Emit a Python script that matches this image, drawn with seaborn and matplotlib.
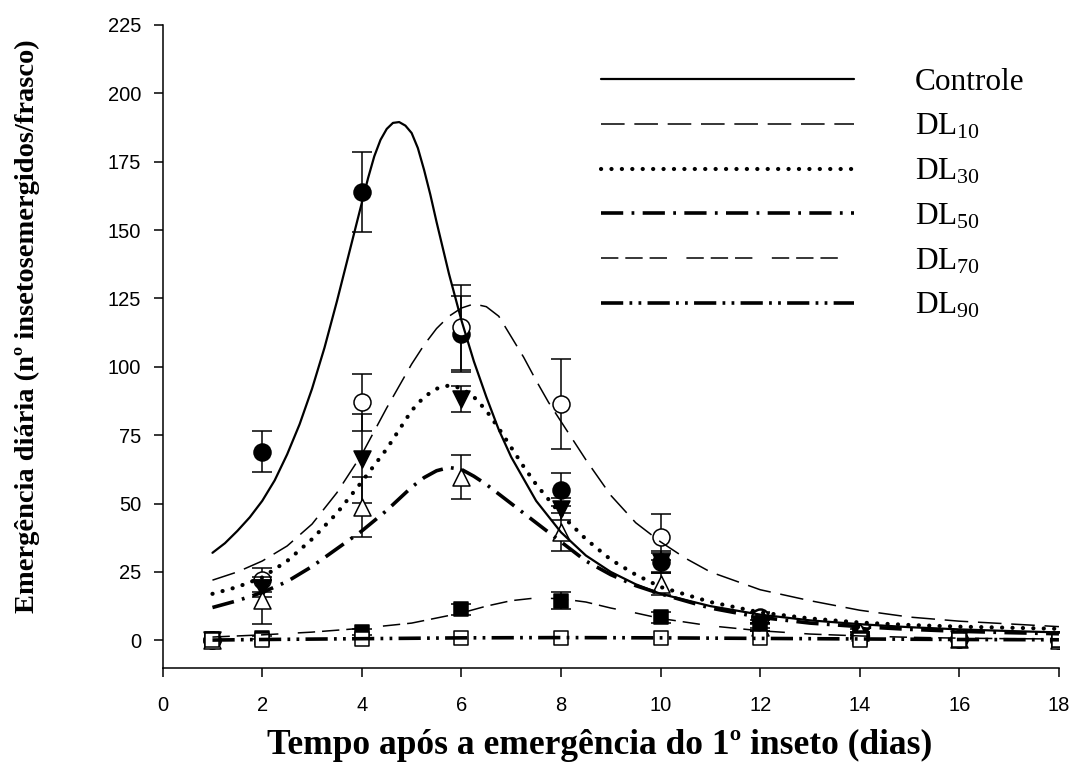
import numpy as np
import pandas as pd
import matplotlib
matplotlib.use("Agg")
import matplotlib.pyplot as plt
import seaborn as sns

# ---------------- data ----------------
series = ["Controle", "DL10", "DL30", "DL50", "DL70", "DL90"]
legend_labels = ["Controle", "DL$_{10}$", "DL$_{30}$", "DL$_{50}$", "DL$_{70}$", "DL$_{90}$"]

# observed points (mean +/- error)
days = [1, 2, 4, 6, 8, 10, 12, 14, 16, 18]
obs_controle = [0, 69, 164, 112, 55, 28.6, 8.5, 2, 0.5, 0]
err_controle = [0, 7.6, 14.6, 14, 6, 4, 2, 1, 0, 0]
obs_dl10 = [0, 22, 87, 114.5, 86.5, 37.8, 8, 2, 0.5, 0]
err_dl10 = [0, 4.5, 10.4, 15.5, 16.5, 8.5, 2, 1, 0, 0]
obs_dl30 = [0, 19, 66.4, 88.3, 48, 28.6, 6, 1.5, 0.5, 0]
err_dl30 = [0, 3, 16.3, 4.7, 4, 3.5, 1.5, 0.8, 0, 0]
obs_dl50 = [0, 14.6, 48.8, 59.7, 39.6, 20.7, 5, 3, 0.5, 0]
err_dl50 = [0, 8.5, 11, 8.2, 7, 4, 1.5, 1, 0, 0]
obs_dl70 = [0.5, 1, 3, 11.3, 14.5, 8.5, 5, 1, 0.3, 0]
err_dl70 = [0, 0.5, 1, 2, 3.2, 2, 1.5, 0.5, 0, 0]
obs_dl90 = [0, 0, 0.5, 1, 1, 1, 1, 0, 0, 0]
err_dl90 = [0, 0, 0, 0, 0, 0, 0, 0, 0, 0]

# fitted curves
fit_x_controle = [1, 1.25, 1.5, 1.75, 2, 2.25, 2.5, 2.75, 3, 3.25, 3.5, 3.75, 4, 4.125, 4.25, 4.375,
                  4.5, 4.625, 4.75, 4.875, 5, 5.125, 5.25, 5.375, 5.5, 5.75, 6, 6.25, 6.5, 6.75, 7,
                  7.5, 8, 8.5, 9, 9.5, 10, 11, 12, 13, 14, 15, 16, 17, 18]
fit_y_controle = [32, 35.5, 40, 45, 51, 58.5, 68, 79, 92, 107, 124, 142, 160, 169, 177, 183,
                  187, 189.2, 189.5, 188.2, 185.5, 180, 172, 163, 153, 134, 117, 102, 89, 77, 67,
                  51, 39.5, 31, 25, 20.5, 17, 12.5, 9.4, 7.3, 5.9, 4.8, 4.0, 3.4, 2.9]
fit_x_dl10 = [1, 1.5, 2, 2.5, 3, 3.5, 4, 4.5, 5, 5.25, 5.5, 5.75, 6, 6.25, 6.5, 6.75, 7, 7.25, 7.5,
              7.75, 8, 8.5, 9, 9.5, 10, 10.5, 11, 12, 13, 14, 15, 16, 17, 18]
fit_y_dl10 = [22, 25, 29, 34.5, 42.5, 54, 68, 85, 101, 108, 114, 118.5, 121.5, 123, 122, 118.5, 111,
              103.5, 95, 87, 80, 66, 53, 43, 36, 30, 25, 18.5, 14.5, 11, 8.5, 7, 6, 5]
fit_x_dl30 = [1, 1.5, 2, 2.5, 3, 3.5, 4, 4.5, 4.75, 5, 5.25, 5.5, 5.75, 6, 6.25, 6.5, 6.75, 7, 7.25,
              7.5, 8, 8.5, 9, 9.5, 10, 11, 12, 13, 14, 15, 16, 17, 18]
fit_y_dl30 = [17, 19.5, 23, 29, 37, 46.5, 58, 70, 77, 84, 89, 92, 93.2, 92.2, 89, 84, 77.5, 70.5, 63.5,
              57, 46, 37, 29.5, 24, 19.5, 14, 10.2, 8, 6.5, 5.6, 5, 4.6, 4.2]
fit_x_dl50 = [1, 1.5, 2, 2.5, 3, 3.5, 4, 4.5, 5, 5.25, 5.5, 5.75, 6, 6.25, 6.5, 6.75, 7, 7.5, 8, 8.5,
              9, 9.5, 10, 11, 12, 13, 14, 15, 16, 17, 18]
fit_y_dl50 = [12, 14.5, 17.5, 21.5, 27, 33.5, 40, 47.5, 56, 59.5, 62, 63.2, 62.5, 60, 57, 53.5, 50,
              43, 36, 29, 24, 20, 17, 11.8, 8.4, 6.3, 5, 4, 3.3, 2.8, 2.4]
fit_x_dl70 = [1, 2, 3, 4, 5, 6, 6.5, 7, 7.5, 8, 8.5, 9, 9.5, 10, 11, 12, 13, 14, 15, 16, 17, 18]
fit_y_dl70 = [1.2, 2, 3, 4.4, 6.3, 10, 12.5, 14.5, 15.5, 15.2, 14, 11.8, 10, 8, 5.3, 3.5, 2.3, 1.6, 1.1,
              0.8, 0.6, 0.5]
fit_x_dl90 = [1, 2, 4, 6, 8, 10, 12, 14, 16, 18]
fit_y_dl90 = [0.1, 0.3, 0.6, 0.9, 1.0, 0.9, 0.7, 0.5, 0.3, 0.2]

x_ticks = [0, 2, 4, 6, 8, 10, 12, 14, 16, 18]
y_ticks = [0, 25, 50, 75, 100, 125, 150, 175, 200, 225]

# ---------------- style ----------------
sns.set_style("ticks")
plt.rcParams["font.family"] = ["Liberation Sans", "DejaVu Sans"]
plt.rcParams["mathtext.default"] = "regular"
plt.rcParams["lines.scale_dashes"] = False
plt.rcParams["text.color"] = "black"
plt.rcParams["axes.labelcolor"] = "black"
plt.rcParams["axes.edgecolor"] = "black"
plt.rcParams["xtick.color"] = "black"
plt.rcParams["ytick.color"] = "black"

fig = plt.figure(figsize=(10.83, 7.76), dpi=100)
ax = fig.add_axes([0.1502, 0.1396, 0.9778 - 0.1502, 0.9678 - 0.1396])

obs = {"Controle": (obs_controle, err_controle), "DL10": (obs_dl10, err_dl10),
       "DL30": (obs_dl30, err_dl30), "DL50": (obs_dl50, err_dl50),
       "DL70": (obs_dl70, err_dl70), "DL90": (obs_dl90, err_dl90)}
fits = {"Controle": (fit_x_controle, fit_y_controle), "DL10": (fit_x_dl10, fit_y_dl10),
        "DL30": (fit_x_dl30, fit_y_dl30), "DL50": (fit_x_dl50, fit_y_dl50),
        "DL70": (fit_x_dl70, fit_y_dl70), "DL90": (fit_x_dl90, fit_y_dl90)}

markers = {"Controle": ("o", "black", 150), "DL10": ("o", "white", 150),
           "DL30": ("v", "black", 150), "DL50": ("^", "white", 150),
           "DL70": ("s", "black", 100), "DL90": ("s", "white", 100)}

line_styles = {
    "Controle": dict(linestyle="-", linewidth=1.6),
    "DL10": dict(linestyle=(0, (17, 7)), linewidth=1.1),
    "DL30": dict(linestyle=(0, (0.1, 7.4)), linewidth=3.0, dash_capstyle="round"),
    "DL50": dict(linestyle=(0, (16, 6, 2, 6)), linewidth=2.6),
    "DL70": dict(linestyle=(0, (12.5, 5, 12.5, 5, 12.5, 14)), linewidth=1.1),
    "DL90": dict(linestyle=(0, (16, 4.5, 2, 4.5, 2, 4.5)), linewidth=2.6),
}

# error bars and markers
for k, s in enumerate(series):
    vals, errs = obs[s]
    df = pd.DataFrame({"dia": days, "val": vals, "err": errs})
    dfe = df[df["err"] > 0]
    ax.errorbar(dfe["dia"], dfe["val"], yerr=dfe["err"], fmt="none", ecolor="black",
                elinewidth=1.1, capsize=7, capthick=1.1, zorder=2 + 0.1 * k)
    m, fc, size = markers[s]
    sns.scatterplot(data=df, x="dia", y="val", marker=m, s=size, color=fc,
                    edgecolor="black", linewidth=1.1, ax=ax, zorder=2.05 + 0.1 * k, legend=False)

# fitted curves
for s, lab in zip(series, legend_labels):
    fx, fy = fits[s]
    dff = pd.DataFrame({"dia": fx, "val": fy})
    sns.lineplot(data=dff, x="dia", y="val", color="black", ax=ax, label=lab,
                 zorder=4, **line_styles[s])

ax.set_xlim(0, 18)
ax.set_ylim(-10, 225)
ax.set_xticks(x_ticks)
ax.set_yticks(y_ticks)
for sp in ["top", "right"]:
    ax.spines[sp].set_visible(False)
for sp in ["left", "bottom"]:
    ax.spines[sp].set_linewidth(1.1)
ax.tick_params(axis="both", direction="out", length=6.5, width=1.1, labelsize=14.5, colors="black")
ax.tick_params(axis="y", pad=9)
ax.tick_params(axis="x", pad=14)

ax.set_xlabel("Tempo após a emergência do 1º inseto (dias)", fontsize=25.5, fontweight="bold",
              family=["Liberation Serif", "DejaVu Serif"])
ax.set_ylabel("Emergência diária (nº insetosemergidos/frasco)", fontsize=20.5, fontweight="bold",
              family=["Liberation Serif", "DejaVu Serif"])
ax.xaxis.set_label_coords(0.488, -0.095)
ax.yaxis.set_label_coords(-0.137, 0.532)

handles, labels = ax.get_legend_handles_labels()
leg = ax.legend(handles, labels, loc="upper left", bbox_to_anchor=(0.4715, 0.9575),
                frameon=False, borderpad=0, handlelength=8.1, handletextpad=1.95,
                labelspacing=0.49, prop={"family": "Liberation Serif", "size": 22.5})

fig.savefig("out.png", dpi=100, facecolor="white")
